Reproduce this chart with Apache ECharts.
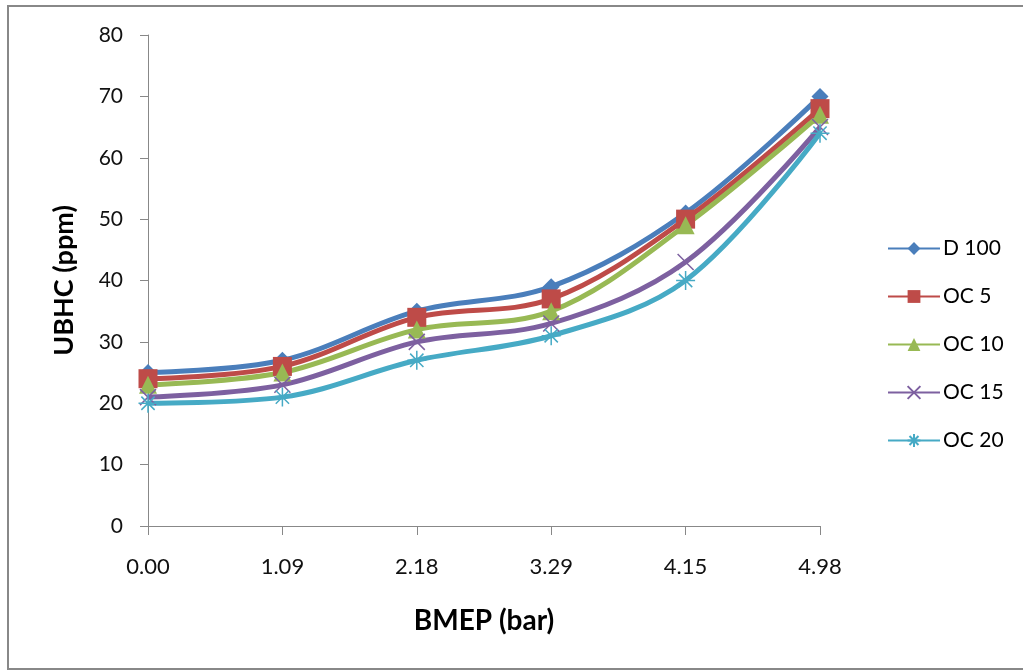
<!DOCTYPE html>
<html><head><meta charset="utf-8">
<script src="https://cdn.jsdelivr.net/npm/echarts@6/dist/echarts.min.js"></script>
<style>html,body{margin:0;padding:0;background:#fff}#c{width:1023px;height:671px}</style>
</head><body><div id="c"></div>
<script>
const categories = ['0.00','1.09','2.18','3.29','4.15','4.98'];
const d100 = [25, 27, 35, 39, 51, 70];
const oc5  = [24, 26, 34, 37, 50, 68];
const oc10 = [23, 25, 32, 35, 49, 67];
const oc15 = [21, 23, 30, 33, 43, 65];
const oc20 = [20, 21, 27, 31, 40, 64];
const seriesNames = ['D 100','OC 5','OC 10','OC 15','OC 20'];
const yTicks = {min: 0, max: 80, interval: 10};

const colors = ['#4A7EBB','#BE4B48','#98B954','#7D60A0','#46AAC5'];
const xSym = 'path://M0,0L10,10M10,0L0,10';
const starSym = 'path://M5,0L5,10M0,5L10,5M1.5,1.5L8.5,8.5M8.5,1.5L1.5,8.5';
const FONT = 'Lato';

function mk(name, data, color, symbol, size, stroke) {
  return {
    name, type: 'line', data, smooth: 0.35,
    symbol, symbolSize: size,
    lineStyle: {color, width: 5},
    itemStyle: stroke ? {color: 'none', borderColor: color, borderWidth: 1.5} : {color},
    emphasis: {disabled: true}
  };
}

const chart = echarts.init(document.getElementById('c'));
chart.setOption({
  animation: false,
  backgroundColor: '#fff',
  color: colors,
  graphic: [{type: 'rect', shape: {x: 8, y: 6, width: 1030, height: 663}, style: {fill: 'none', stroke: '#888', lineWidth: 2}}],
  grid: {left: 148, right: 203, top: 35, bottom: 145},
  legend: {
    orient: 'vertical', left: 882, top: 233, itemWidth: 52, itemHeight: 16, itemGap: 27,
    data: seriesNames,
    textStyle: {fontFamily: FONT, fontSize: 21, color: '#000', padding: [0,0,0,-2]}
  },
  xAxis: {
    type: 'category', data: categories, boundaryGap: false,
    axisLine: {lineStyle: {color: '#888', width: 1}},
    axisTick: {alignWithLabel: true, length: 9, lineStyle: {color: '#888'}},
    axisLabel: {fontFamily: FONT, fontSize: 22, color: '#111', margin: 30},
    name: 'BMEP (bar)', nameLocation: 'middle', nameGap: 81, nameMoveOverlap: false,
    nameTextStyle: {fontFamily: FONT, fontSize: 28, fontWeight: 'bold', color: '#000'}
  },
  yAxis: {
    type: 'value', min: yTicks.min, max: yTicks.max, interval: yTicks.interval,
    axisLine: {show: true, lineStyle: {color: '#888', width: 1}},
    axisTick: {show: true, length: 8, lineStyle: {color: '#888'}},
    splitLine: {show: false},
    axisLabel: {fontFamily: FONT, fontSize: 21, color: '#111', margin: 25},
    name: 'UBHC (ppm)', nameLocation: 'middle', nameGap: 70, nameRotate: 90, nameMoveOverlap: false,
    nameTextStyle: {fontFamily: FONT, fontSize: 27, fontWeight: 'bold', color: '#000'}
  },
  series: [
    mk(seriesNames[0], d100, colors[0], 'diamond', 17, false),
    mk(seriesNames[1], oc5, colors[1], 'rect', 19, false),
    mk(seriesNames[2], oc10, colors[2], 'triangle', 18, false),
    mk(seriesNames[3], oc15, colors[3], xSym, 16, true),
    mk(seriesNames[4], oc20, colors[4], starSym, 19, true)
  ]
});
</script></body></html>
